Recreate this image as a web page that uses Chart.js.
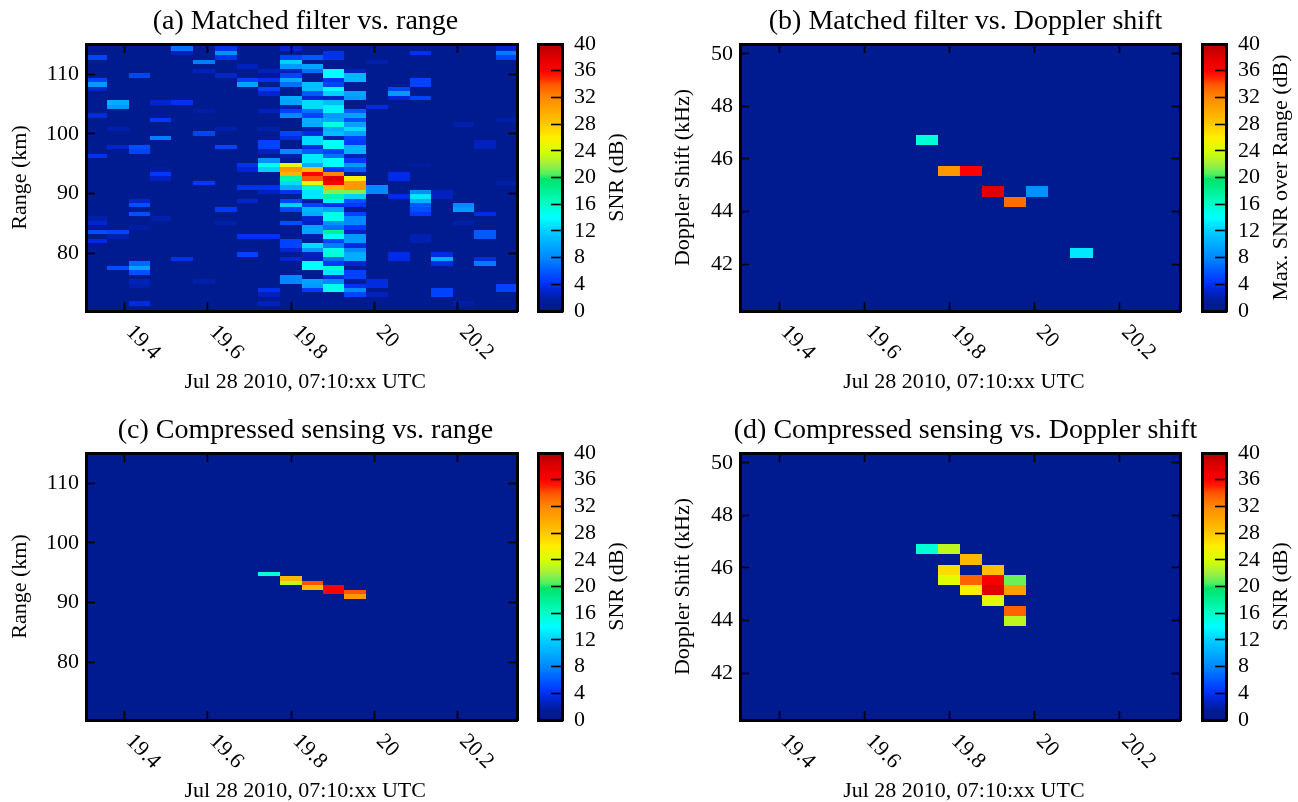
<!DOCTYPE html>
<html>
<head>
<meta charset="utf-8">
<title>Matched filter vs. compressed sensing</title>
<script src="https://cdn.jsdelivr.net/npm/chart.js@4"></script>
<style>
  html, body { margin: 0; padding: 0; background: #fff; }
  #page { position: relative; width: 1298px; height: 802px; overflow: hidden; }
  canvas { position: absolute; }
</style>
</head>
<body>
<div id="page"></div>
<script>
// ==========================================
// 1. DATA
// ==========================================
const timeBins = [19.332, 19.384, 19.436, 19.487, 19.539, 19.591, 19.643, 19.695, 19.747, 19.799,
  19.851, 19.902, 19.954, 20.006, 20.058, 20.110, 20.162, 20.214, 20.265, 20.317];

const rangeBins = [115.03, 114.28, 113.53, 112.78, 112.03, 111.28, 110.53, 109.78, 109.03, 108.28,
  107.53, 106.78, 106.03, 105.28, 104.53, 103.78, 103.03, 102.28, 101.53, 100.78,
  100.03, 99.28, 98.53, 97.78, 97.03, 96.28, 95.53, 94.78, 94.03, 93.28,
  92.53, 91.78, 91.03, 90.28, 89.53, 88.78, 88.03, 87.28, 86.53, 85.78,
  85.03, 84.28, 83.53, 82.78, 82.03, 81.28, 80.53, 79.78, 79.03, 78.28,
  77.53, 76.78, 76.03, 75.28, 74.53, 73.78, 73.03, 72.28, 71.53, 70.78, 70.03];

const dopplerBins = [50.22, 49.83, 49.44, 49.05, 48.66, 48.27, 47.88, 47.49, 47.10, 46.71,
  46.32, 45.93, 45.54, 45.15, 44.76, 44.37, 43.98, 43.59, 43.20, 42.81,
  42.42, 42.03, 41.64, 41.25, 40.86, 40.47];

// each cell is [time bin, range or doppler bin, SNR dB]. Cells not listed are at the noise floor
const mfRangeCells = [
  [0,3,5],[0,8,5],[0,9,9],[0,10,3],[0,16,3.5],[0,25,4],[0,39,2],[0,40,3],[0,42,5.5],[0,44,3.5],
  [1,13,10],[1,14,9],[1,19,2],[1,23,3],[1,42,5],[1,43,2],[1,50,5.5],
  [2,7,5],[2,23,5.5],[2,24,5],[2,35,3],[2,36,5.5],[2,38,5.5],[2,41,1.8],[2,49,6.5],[2,50,9.5],[2,51,5.5],[2,53,2.5],[2,54,2],[2,58,3.5],
  [3,13,3],[3,17,4.5],[3,21,7.5],[3,28,1.7],[3,29,4.5],[3,30,2.7],[3,39,2],
  [4,1,7],[4,2,2.5],[4,13,4],[4,48,4],
  [5,4,7.5],[5,6,2.5],[5,15,1.8],[5,20,5],[5,31,4.5],[5,53,2],
  [6,1,4],[6,2,8.5],[6,3,4],[6,7,3],[6,19,2],[6,23,5],[6,37,4.5],[6,40,2],
  [7,5,2.5],[7,8,5],[7,9,9.5],[7,27,4],[7,28,3],[7,32,4],[7,35,3],[7,43,4],[7,47,5],
  [8,6,2.5],[8,8,4],[8,10,5],[8,11,3],[8,15,2.5],[8,19,2],[8,22,5],[8,23,5],[8,24,2.5],[8,26,8.5],[8,27,14.5],[8,28,12],[8,32,4],[8,33,2.5],[8,43,4],[8,55,4],[8,56,2.5],[8,58,2.5],
  [9,1,3],[9,3,5],[9,4,12],[9,5,9],[9,6,2.5],[9,7,5],[9,8,10],[9,9,7],[9,12,10],[9,13,9.5],[9,14,2],[9,15,5],[9,16,8],[9,20,5],[9,21,3.5],[9,24,8],[9,25,2],
  [9,27,25],[9,28,31],[9,29,29.5],[9,30,17],[9,31,12.5],[9,32,10],[9,33,4],[9,34,1.5],[9,35,5],[9,36,12],[9,37,5],[9,40,5.5],[9,44,5],[9,45,5],[9,46,3],[9,48,3],[9,52,8],[9,53,8],
  [10,3,6],[10,5,9.5],[10,6,7],[10,9,11],[10,10,11],[10,11,6],[10,12,3],[10,13,12.5],[10,14,12.5],[10,15,7],[10,16,5],[10,17,10],[10,18,10],[10,19,2],[10,20,3.5],[10,21,12.5],[10,22,12.5],[10,23,3.5],[10,24,6],[10,25,13],[10,26,13],
  [10,27,10],[10,28,29],[10,29,36],[10,30,34],[10,31,25],[10,32,16],[10,33,13],[10,34,13],[10,35,1.5],[10,36,5],[10,37,10.5],[10,38,10],[10,39,3],[10,40,2.5],[10,41,9.5],[10,42,9.5],[10,43,2],[10,44,1.5],[10,45,12.5],[10,46,9],[10,47,2.5],[10,48,2],[10,49,14],[10,50,14],[10,53,9.5],[10,54,9],[10,55,4.5],
  [11,2,4],[11,3,4],[11,6,14],[11,7,14],[11,8,4],[11,9,5],[11,10,14],[11,11,12],[11,12,2.5],[11,13,11],[11,14,13.5],[11,15,13.5],[11,16,9],[11,17,9.5],[11,18,15],[11,19,10],[11,20,11],[11,21,2],[11,22,14],[11,23,14.5],[11,24,5],[11,25,7],[11,26,14],[11,27,14],[11,28,4.5],
  [11,29,32],[11,30,38],[11,31,36],[11,32,29],[11,33,21.5],[11,34,17],[11,35,13.5],[11,36,4],[11,37,9.5],[11,38,15],[11,39,14.5],[11,40,8.5],[11,41,7],[11,42,18],[11,43,14],[11,44,5],[11,45,7.5],[11,46,15],[11,47,15.5],[11,48,7],[11,49,4.5],[11,50,15.5],[11,51,13],[11,52,3.5],[11,53,8],[11,54,14.5],[11,55,14.5],
  [12,6,2.5],[12,7,10.5],[12,8,10.5],[12,9,1.5],[12,11,9.5],[12,12,9],[12,15,6],[12,16,9.5],[12,17,5.5],[12,18,9.5],[12,19,12.5],[12,20,9.5],[12,21,5],[12,22,4.5],[12,23,10.5],[12,24,10.5],[12,25,2.5],[12,26,4.5],[12,27,9],[12,28,6],[12,29,1.5],
  [12,30,26],[12,31,31],[12,32,31],[12,33,21.5],[12,34,12],[12,35,5.5],[12,36,4.5],[12,38,5],[12,39,8],[12,40,8],[12,41,4.5],[12,42,2.5],[12,43,9],[12,44,9],[12,45,3.5],[12,46,8],[12,47,10],[12,48,10],[12,49,3],[12,50,1.5],[12,51,5],[12,52,5],[12,53,1.5],[12,54,4],[12,55,8],[12,56,5],
  [13,4,2],[13,14,3.5],[13,32,8],[13,33,8],[13,53,3.5],[13,54,3.5],[13,56,2.5],
  [14,10,5],[14,11,9],[14,12,3],[14,29,3.5],[14,30,3.5],[14,34,3.5],[14,47,3.5],[14,48,3.5],
  [15,2,4],[15,8,5],[15,9,5],[15,12,5],[15,27,1.7],[15,33,8.5],[15,34,13],[15,35,10.5],[15,36,6],[15,37,5.5],[15,38,4.5],[15,43,2.2],[15,44,2.2],
  [16,33,2.5],[16,34,2.5],[16,47,3.5],[16,48,10],[16,49,3.5],[16,55,5],[16,56,5],
  [17,18,2],[17,36,8],[17,37,9],[17,40,2],[17,58,1.8],
  [18,22,2.5],[18,23,2.5],[18,38,3.5],[18,42,6],[18,43,6],[18,48,3.5],[18,49,7.5],
  [19,1,3],[19,2,7.5],[19,3,5],[19,17,2],[19,31,2],[19,54,5],[19,55,5]
];
const mfDopplerCells = [[8,9,15.5],[9,12,31],[10,12,36],[11,14,38],[12,15,33],[13,14,8.5],[15,20,13]];
const csRangeCells = [
  [8,27,15.5],
  [9,28,29],[9,29,23],
  [10,29,34],[10,30,29],
  [11,30,36],[11,31,36],
  [12,31,34],[12,32,31]
];
const csDopplerCells = [
  [8,9,15.5],
  [9,9,23],[9,11,27],[9,12,24.5],
  [10,10,29],[10,12,33.5],[10,13,26],
  [11,11,28.5],[11,12,36.5],[11,13,38],[11,14,24.5],
  [12,12,21],[12,13,30.5],[12,15,33.5],[12,16,23]
];

const timeTicks = [19.4, 19.6, 19.8, 20, 20.2];
const rangeTicks = [80, 90, 100, 110];
const dopplerTicks = [42, 44, 46, 48, 50];
const snrTicks = [0, 4, 8, 12, 16, 20, 24, 28, 32, 36, 40];

// colour bar
const cmapLevels = [0, 1.5, 3, 4.5, 8, 12, 14, 16, 19.7, 20.5, 22, 24, 26, 28, 32, 34, 35, 36, 38, 40];
const cmapColors = ['#001a8f', '#001c98', '#0024d0', '#0038ff', '#0088ff', '#00d0ff', '#00ffff', '#00ffc8',
  '#00e468', '#50f060', '#a0f040', '#d8ff00', '#ffee00', '#ffc800', '#ff8800', '#ff5500', '#ff2000', '#ff0000', '#e00000', '#b00000'];

const SERIF = '"Liberation Serif", "Times New Roman", serif';
const AXIS_FONT = 22;
const FLOOR_COLOR = '#001a8f';

// ==========================================
// 2. HELPERS
// ==========================================
function snrColor(v) {
  let i = 0;
  while (i < cmapLevels.length - 2 && v > cmapLevels[i + 1]) i++;
  const f = Math.min(1, (v - cmapLevels[i]) / (cmapLevels[i + 1] - cmapLevels[i]));
  const a = parseInt(cmapColors[i].slice(1), 16), b = parseInt(cmapColors[i + 1].slice(1), 16);
  const mix = s => Math.round(((a >> s) & 255) * (1 - f) + ((b >> s) & 255) * f);
  return `rgb(${mix(16)},${mix(8)},${mix(0)})`;
}

// half the gap to the neighbouring bin, so a cell's edges come from the bin lists
function binEdges(bins, i) {
  const step = Math.abs((bins[i + 1] ?? bins[i]) - (bins[i - 1] ?? bins[i])) / (i === 0 || i === bins.length - 1 ? 1 : 2);
  return [bins[i] - step / 2, bins[i] + step / 2];
}

// frame with inward ticks on all four sides
function frameAxis(position, min, max, ticks, tickLen, width, extra) {
  const isX = position === 'top' || position === 'bottom';
  return Object.assign({
    type: 'linear', position, min, max,
    border: { display: true, color: '#000', width: 3 },
    grid: { display: true, drawOnChartArea: false, drawTicks: ticks.length > 0, tickLength: -tickLen, tickColor: '#000', tickWidth: 1.6 },
    ticks: { display: false, autoSkip: false, includeBounds: false },
    afterBuildTicks: s => { s.ticks = ticks.map(v => ({ value: v })); },
    afterFit: s => { if (isX) s.height = width; else s.width = width; }
  }, extra);
}

// draws the cells under the axes, through the chart's own scales
const heatCells = {
  id: 'heatCells',
  beforeDraw(chart) {
    const { ctx, chartArea: a, scales: { x, y } } = chart;
    const yBins = chart.options.plugins.heatCells.yBins;
    ctx.save();
    ctx.beginPath();
    ctx.rect(a.left, a.top, a.right - a.left, a.bottom - a.top);
    ctx.clip();
    ctx.fillStyle = FLOOR_COLOR;
    ctx.fillRect(a.left, a.top, a.right - a.left, a.bottom - a.top);
    chart.data.datasets[0].data.forEach(c => {
      const [x0, x1] = binEdges(timeBins, c.t);
      const [y0, y1] = binEdges(yBins, c.b);
      const left = Math.round(x.getPixelForValue(x0)), right = Math.round(x.getPixelForValue(x1));
      const top = Math.round(y.getPixelForValue(y1)), bottom = Math.round(y.getPixelForValue(y0));
      ctx.fillStyle = snrColor(c.v);
      ctx.fillRect(left, top, right - left, bottom - top);
    });
    ctx.restore();
  }
};

// chart.js only tilts labels the other way, so these are drawn by hand
const xLabels = {
  id: 'xLabels',
  afterDraw(chart) {
    const { ctx, scales: { x } } = chart;
    ctx.save();
    ctx.fillStyle = '#000';
    ctx.font = AXIS_FONT + 'px ' + SERIF;
    timeTicks.forEach(v => {
      ctx.save();
      ctx.translate(x.getPixelForValue(v) + 5, x.top + 18);
      ctx.rotate(Math.PI / 4);
      ctx.textAlign = 'left';
      ctx.textBaseline = 'middle';
      ctx.fillText(String(v), 0, 0);
      ctx.restore();
    });
    ctx.textAlign = 'center';
    ctx.textBaseline = 'middle';
    ctx.fillText(chart.options.plugins.xLabels.title, (x.left + x.right) / 2 + 3.5, x.top + 71);
    ctx.restore();
  }
};

const colorbarFill = {
  id: 'colorbarFill',
  beforeDraw(chart) {
    const { ctx, chartArea: a, scales: { y } } = chart;
    const grad = ctx.createLinearGradient(0, y.getPixelForValue(0), 0, y.getPixelForValue(40));
    cmapLevels.forEach((lvl, i) => grad.addColorStop(lvl / 40, cmapColors[i]));
    ctx.fillStyle = grad;
    ctx.fillRect(a.left, a.top, a.right - a.left, a.bottom - a.top);
  },
  afterDraw(chart) {
    const { ctx, chartArea: a } = chart;
    ctx.save();
    ctx.translate(a.right + 55, (a.top + a.bottom) / 2);
    ctx.rotate(-Math.PI / 2);
    ctx.fillStyle = '#000';
    ctx.font = AXIS_FONT + 'px ' + SERIF;
    ctx.textAlign = 'center';
    ctx.textBaseline = 'middle';
    ctx.fillText(chart.options.plugins.colorbarFill.title, 0, 0);
    ctx.restore();
  }
};

function addCanvas(left, top, width, height) {
  const c = document.createElement('canvas');
  c.width = width; c.height = height;
  c.style.left = left + 'px'; c.style.top = top + 'px';
  c.style.width = width + 'px'; c.style.height = height + 'px';
  document.getElementById('page').appendChild(c);
  return c;
}

// ==========================================
// 3. PANELS
// ==========================================
const CANVAS_H = 395, PLOT_TOP = 44, PLOT_BOTTOM = 311;
const TITLE_FONT = 28;

function drawPanel(p) {
  const canvas = addCanvas(p.left, p.top, p.width, CANVAS_H);
  new Chart(canvas, {
    type: 'scatter',
    data: { datasets: [{ data: p.cells.map(c => ({ x: timeBins[c[0]], y: p.yBins[c[1]], t: c[0], b: c[1], v: c[2] })), pointRadius: 0 }] },
    plugins: [heatCells, xLabels],
    options: {
      responsive: false, animation: false, devicePixelRatio: 1,
      events: [],
      layout: { padding: 0 },
      scales: {
        x: frameAxis('bottom', 19.308, 20.343, timeTicks, 9, CANVAS_H - PLOT_BOTTOM),
        xTop: frameAxis('top', 19.308, 20.343, timeTicks, 9, 0),
        y: frameAxis('left', p.yMin, p.yMax, p.yTicks, 9, p.plotLeft, {
          ticks: { display: true, autoSkip: false, includeBounds: false, padding: 16, color: '#000', font: { family: SERIF, size: AXIS_FONT }, callback: v => String(v) },
          title: { display: true, text: p.yTitle, color: '#000', font: { family: SERIF, size: AXIS_FONT }, padding: { top: 7, bottom: 0 } }
        }),
        yRight: frameAxis('right', p.yMin, p.yMax, p.yTicks, 9, p.width - p.plotRight)
      },
      plugins: {
        legend: { display: false },
        tooltip: { enabled: false },
        title: { display: true, text: p.title, color: '#000', font: { family: SERIF, size: TITLE_FONT, weight: 'normal' }, padding: { top: 5, bottom: PLOT_TOP - 5 - TITLE_FONT * 1.2 } },
        heatCells: { yBins: p.yBins },
        xLabels: { title: 'Jul 28 2010, 07:10:xx UTC' }
      }
    }
  });

  const barCanvas = addCanvas(p.barLeft - 8, p.top, 110, CANVAS_H);
  new Chart(barCanvas, {
    type: 'scatter',
    data: { datasets: [{ data: cmapLevels.map(v => ({ x: 0, y: v })), pointRadius: 0 }] },
    plugins: [colorbarFill],
    options: {
      responsive: false, animation: false, devicePixelRatio: 1,
      events: [],
      layout: { padding: { left: 0, top: PLOT_TOP, right: 0, bottom: 0 } },
      scales: {
        x: frameAxis('bottom', 0, 1, [], 0, CANVAS_H - PLOT_BOTTOM),
        xTop: frameAxis('top', 0, 1, [], 0, 0),
        yLeft: frameAxis('left', 0, 40, [], 0, 8),
        y: frameAxis('right', 0, 40, snrTicks, 11, 110 - 32, {
          ticks: { display: true, autoSkip: false, includeBounds: false, padding: 23, color: '#000', font: { family: SERIF, size: AXIS_FONT }, callback: v => String(v) }
        })
      },
      plugins: {
        legend: { display: false },
        tooltip: { enabled: false },
        colorbarFill: { title: p.barTitle }
      }
    }
  });
}

const LEFT_COL = { left: 0, width: 611, plotLeft: 86, plotRight: 517.5, barLeft: 538 };
const RIGHT_COL = { left: 663, width: 605, plotLeft: 77, plotRight: 517.7, barLeft: 1202 };
const RANGE_AXIS = { yBins: rangeBins, yTicks: rangeTicks, yMin: 70.3, yMax: 115.05, yTitle: 'Range (km)' };
const DOPPLER_AXIS = { yBins: dopplerBins, yTicks: dopplerTicks, yMin: 40.21, yMax: 50.38, yTitle: 'Doppler Shift (kHz)' };

drawPanel({ ...LEFT_COL, ...RANGE_AXIS, top: 0, cells: mfRangeCells, title: '(a) Matched filter vs. range', barTitle: 'SNR (dB)' });
drawPanel({ ...RIGHT_COL, ...DOPPLER_AXIS, top: 0, cells: mfDopplerCells, title: '(b) Matched filter vs. Doppler shift', barTitle: 'Max. SNR over Range (dB)' });
drawPanel({ ...LEFT_COL, ...RANGE_AXIS, top: 409, cells: csRangeCells, title: '(c) Compressed sensing vs. range', barTitle: 'SNR (dB)' });
drawPanel({ ...RIGHT_COL, ...DOPPLER_AXIS, top: 409, cells: csDopplerCells, title: '(d) Compressed sensing vs. Doppler shift', barTitle: 'SNR (dB)' });
</script>
</body>
</html>
